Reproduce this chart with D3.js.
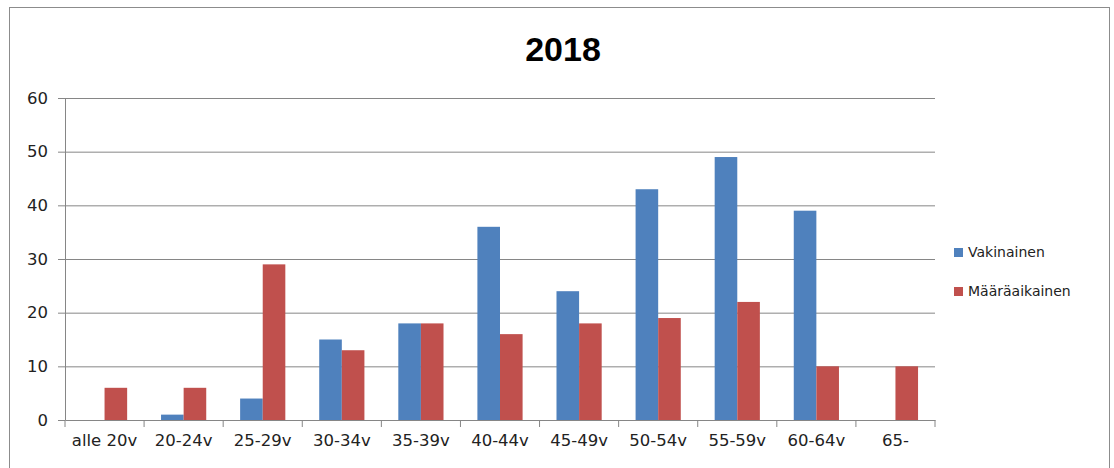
<!DOCTYPE html>
<html>
<head>
<meta charset="utf-8">
<script src="https://cdn.jsdelivr.net/npm/d3@7"></script>
<style>
  body { margin: 0; background: #fff; }
  svg { display: block; }
  .axis text { font-family: "DejaVu Sans", sans-serif; font-size: 16.5px; fill: #222; }
  .axis path, .axis line { stroke: #868686; }
</style>
</head>
<body>
<div id="chart"></div>
<script>

// Data
var categories = ["alle 20v", "20-24v", "25-29v", "30-34v", "35-39v", "40-44v",
                  "45-49v", "50-54v", "55-59v", "60-64v", "65-"];
var vakinainen = [0, 1, 4, 15, 18, 36, 24, 43, 49, 39, 0];
var maaraaikainen = [6, 6, 29, 13, 18, 16, 18, 19, 22, 10, 10];
var seriesNames = ["Vakinainen", "Määräaikainen"];
var seriesColors = ["#4F81BD", "#C0504D"];
var yTicks = [0, 10, 20, 30, 40, 50, 60];
var title = "2018";

// Set the dimension
var W = 1114, H = 468;
var margin = {top: 98, right: 179, bottom: 48, left: 65},
    width = W - margin.left - margin.right,
    height = H - margin.top - margin.bottom;

var root = d3.select("#chart").append("svg")
    .attr("width", W)
    .attr("height", H);

// chart frame
root.append("rect")
    .attr("x", 9.5).attr("y", 7.5)
    .attr("width", 1100).attr("height", 480)
    .attr("fill", "none")
    .attr("stroke", "#8c8c8c");

root.append("text")
    .attr("x", 563).attr("y", 61)
    .attr("text-anchor", "middle")
    .style("font-family", "'Liberation Sans', Arial, sans-serif")
    .style("font-weight", "bold")
    .style("font-size", "34px")
    .attr("fill", "#000")
    .text(title);

var svg = root.append("g")
    .attr("transform", "translate(" + margin.left + "," + margin.top + ")");

var gap = 1.5 / 3.5;   // excel gap width 150%
var x0 = d3.scaleBand()
    .domain(categories)
    .range([0, width])
    .paddingInner(gap)
    .paddingOuter(gap / 2);

var x1 = d3.scaleBand()
    .domain(seriesNames)
    .range([0, x0.bandwidth()]);

var y = d3.scaleLinear()
    .domain([0, 60])
    .range([height, 0]);

// gridlines
svg.append("g")
    .attr("class", "axis grid")
    .call(d3.axisLeft(y).tickValues(yTicks.slice(1)).tickSize(-width).tickFormat(""))
    .call(function(g) { g.select(".domain").remove(); });

// y axis
svg.append("g")
    .attr("class", "axis axis--y")
    .call(d3.axisLeft(y).tickValues(yTicks).tickSize(7).tickSizeOuter(0).tickPadding(10));

// bars
var rows = categories.map(function(c, i) {
    return {cat: c, values: [vakinainen[i], maaraaikainen[i]]};
});

svg.append("g")
  .selectAll("g")
  .data(rows)
  .enter().append("g")
    .attr("transform", function(d) { return "translate(" + x0(d.cat) + ",0)"; })
  .selectAll("rect")
  .data(function(d) { return d.values.map(function(v, k) { return {name: seriesNames[k], value: v, k: k}; }); })
  .enter().append("rect")
    .attr("x", function(d) { return x1(d.name); })
    .attr("width", x1.bandwidth())
    .attr("y", function(d) { return y(d.value); })
    .attr("height", function(d) { return height - y(d.value); })
    .attr("fill", function(d) { return seriesColors[d.k]; });

// x axis (labels centered, ticks on category boundaries)
var xAxis = svg.append("g")
    .attr("class", "axis axis--x")
    .attr("transform", "translate(0," + height + ")")
    .call(d3.axisBottom(x0).tickSize(0).tickSizeOuter(0).tickPadding(21));
xAxis.selectAll(".tick text").attr("dy", "0.3em");

var half = (x0.step() - x0.bandwidth()) / 2;
var bounds = categories.map(function(c) { return x0(c) - half; }).concat([width]);
xAxis.selectAll(".bound")
  .data(bounds)
  .enter().append("line")
    .attr("class", "bound")
    .attr("x1", function(d) { return d; })
    .attr("x2", function(d) { return d; })
    .attr("y1", 0).attr("y2", 7);

// legend
var legend = root.append("g")
    .attr("transform", "translate(954,248)");

var item = legend.selectAll("g")
  .data(seriesNames)
  .enter().append("g")
    .attr("transform", function(d, i) { return "translate(0," + (i * 39) + ")"; });

item.append("rect")
    .attr("width", 9).attr("height", 9)
    .attr("fill", function(d, i) { return seriesColors[i]; });

item.append("text")
    .attr("x", 14).attr("y", 4.5)
    .attr("dy", "0.35em")
    .style("font-family", "'DejaVu Sans', sans-serif")
    .style("font-size", "14px")
    .attr("fill", "#222")
    .text(function(d) { return d; });

</script>
</body>
</html>
